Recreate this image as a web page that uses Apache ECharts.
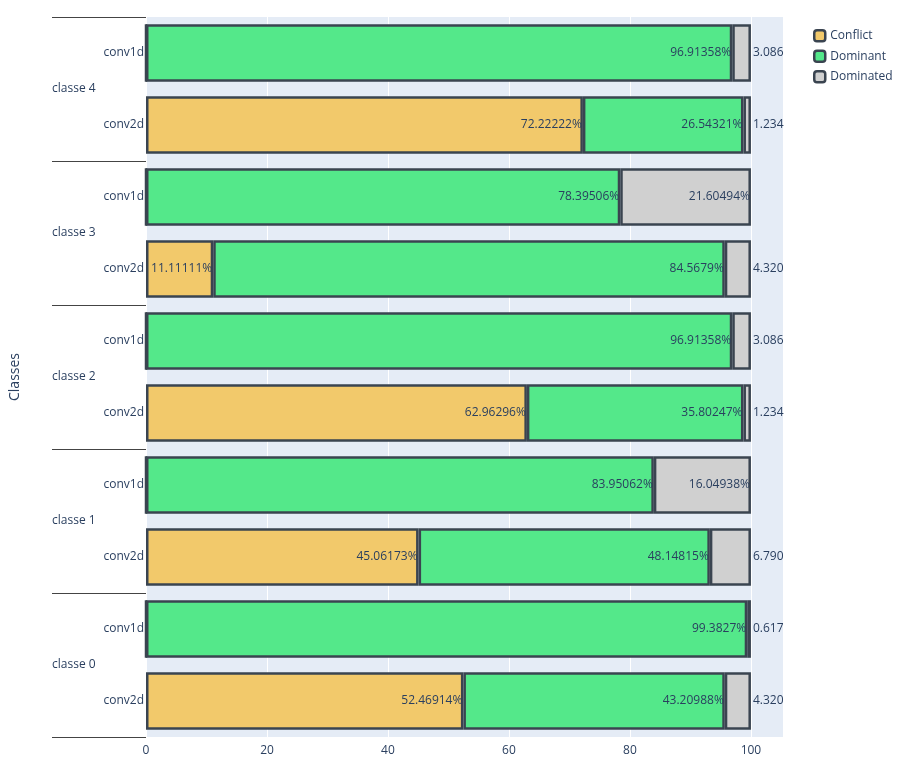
<!DOCTYPE html><html><head><meta charset="utf-8"><script src="https://cdn.jsdelivr.net/npm/echarts@6/dist/echarts.min.js"></script></head><body style="margin:0"><div id="c" style="width:906px;height:763px"></div><script>
const models=['conv2d','conv1d','conv2d','conv1d','conv2d','conv1d','conv2d','conv1d','conv2d','conv1d'];
const classes=['classe 0','classe 1','classe 2','classe 3','classe 4'];
const conflict=[52.46914,0,45.06173,0,62.96296,0,11.11111,0,72.22222,0];
const dominant=[43.20988,99.3827,48.14815,83.95062,35.80247,96.91358,84.5679,78.39506,26.54321,96.91358];
const dominated=[4.320988,0.617284,6.790123,16.04938,1.234568,3.08642,4.320988,21.60494,1.234568,3.08642];
const xTicks=[0,20,40,60,80,100];
const border='#3a4450';
function ser(name,vals,color){
  return {name,type:'bar',stack:'s',barCategoryGap:'20%',data:vals.map(v=>{
    const small=name==='Dominated'&&v<10;
    return {value:v,label:{show:v>0,position:small?'right':'insideRight',distance:small?2:1,
      formatter:small?String(v).slice(0,5):(+v.toFixed(5))+'%'}};
  }),itemStyle:{color,borderColor:border,borderWidth:2.5},
  label:{color:'#2a3f5f',fontSize:12,fontFamily:'Open Sans, sans-serif'}};
}
const ch=echarts.init(document.getElementById('c'));
ch.setOption({
  textStyle:{fontFamily:'Open Sans, sans-serif'},
  legend:{orient:'vertical',left:808,top:24,itemWidth:11,itemHeight:11,itemGap:7,
    textStyle:{color:'#2a3f5f',fontSize:12},
    itemStyle:{borderColor:border,borderWidth:2.5},data:['Conflict','Dominant','Dominated']},
  grid:{left:143,right:123,top:17,bottom:26,show:true,backgroundColor:'#e5ecf6',borderWidth:0},
  xAxis:{type:'value',min:0,max:105.3,interval:20,
    axisLabel:{color:'#2a3f5f',fontSize:12,formatter:v=>xTicks.includes(v)?v:''},
    splitLine:{lineStyle:{color:'#fff'}},axisLine:{show:false},axisTick:{show:false}},
  yAxis:[
    {type:'category',data:models,axisLine:{show:false},axisTick:{show:false},
     axisLabel:{color:'#2a3f5f',fontSize:12,margin:2}},
    {type:'category',data:classes,position:'left',offset:0,
     name:'Classes',nameLocation:'middle',nameGap:124,nameTextStyle:{color:'#2a3f5f',fontSize:14},
     axisLine:{show:false},axisTick:{show:true,inside:false,length:94,lineStyle:{color:'#444',width:1}},
     axisLabel:{color:'#2a3f5f',fontSize:12,margin:94,align:'left'}}
  ],
  series:[ser('Conflict',conflict,'#f2c96b'),ser('Dominant',dominant,'#54e88a'),ser('Dominated',dominated,'#d0d0d0')]
});
</script></body></html>
